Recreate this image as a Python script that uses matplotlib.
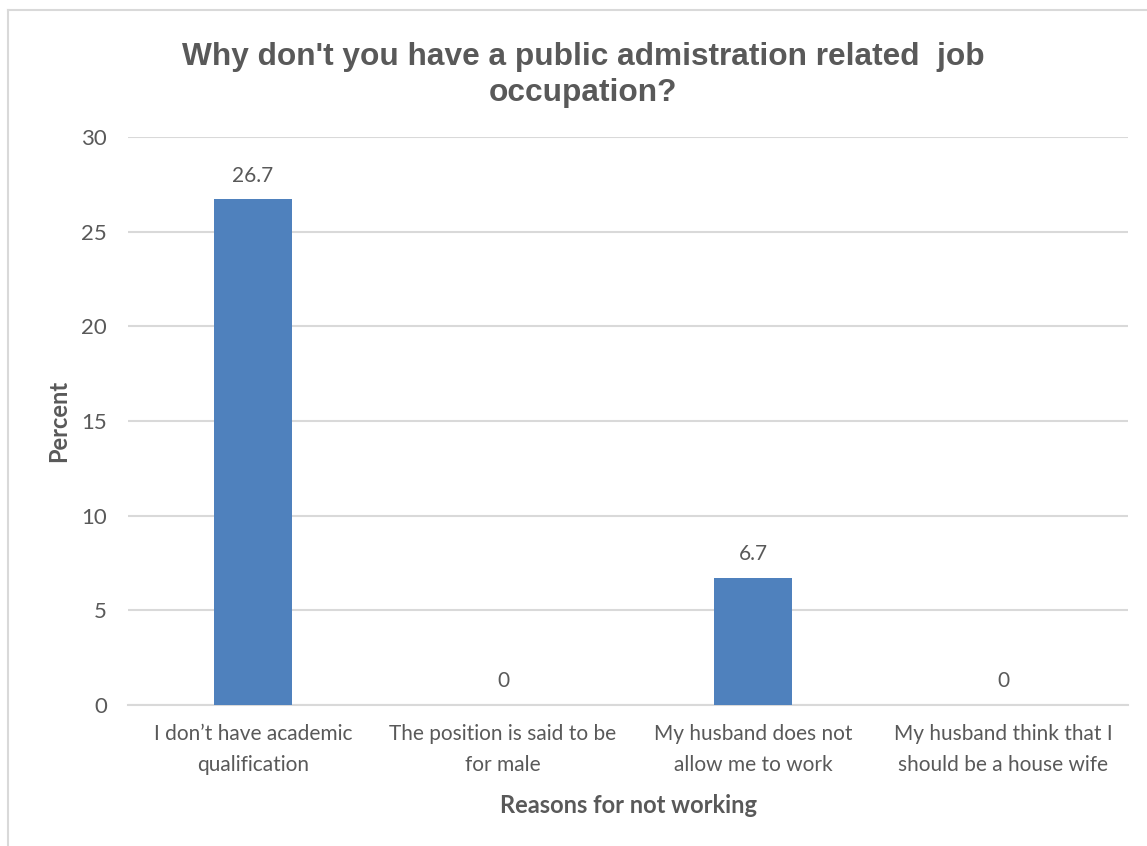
import matplotlib.pyplot as plt
from matplotlib.lines import Line2D

categories = [
    "I don\u2019t have academic\nqualification",
    "The position is said to be\nfor male",
    "My husband does not\nallow me to work",
    "My husband think that I\nshould be a house wife",
]
percent = [26.7, 0, 6.7, 0]
labels = ["26.7", "0", "6.7", "0"]

TEXT = "#595959"
GRID = "#D9D9D9"
BAR = "#4F81BD"

W, H = 1147, 846
fig = plt.figure(figsize=(W / 100, H / 100), dpi=100)
ax = fig.add_axes([128 / W, 1 - 705 / H, 1000 / W, (705 - 137) / H])

x = range(len(categories))
bars = ax.bar(x, percent, width=0.31, color=BAR, zorder=3)
for b, t in zip(bars, labels):
    ax.annotate(t, (b.get_x() + b.get_width() / 2, b.get_height()),
                xytext=(0, 10), textcoords="offset points",
                ha="center", va="bottom", fontsize=15, color=TEXT,
                family="Lato")

ax.set_xlim(-0.5, 3.5)
ax.set_ylim(0, 30)
ax.set_yticks(range(0, 31, 5))
ax.set_xticks(list(x))
ax.set_xticklabels(categories)
ax.yaxis.grid(True, color=GRID, linewidth=1.5, zorder=0)
for s in ["top", "right", "left"]:
    ax.spines[s].set_visible(False)
ax.spines["bottom"].set_color(GRID)
ax.spines["bottom"].set_linewidth(1.5)
ax.tick_params(axis="x", length=0, colors=TEXT, labelsize=15, pad=14)
ax.tick_params(axis="y", length=0, colors=TEXT, labelsize=16, pad=15)
for lbl in ax.get_xticklabels() + ax.get_yticklabels():
    lbl.set_family("Lato")
    lbl.set_linespacing(1.65)

ax.set_ylabel("Percent", fontsize=17, fontweight="bold", color=TEXT,
              family="Lato", labelpad=8)
ax.set_xlabel("Reasons for not working", fontsize=17, fontweight="bold",
              color=TEXT, family="Lato", labelpad=14)

fig.text(583 / W, 1 - 75 / H,
         "Why don't you have a public admistration related  job\noccupation?",
         ha="center", va="center", fontsize=22.8, fontweight="bold",
         color=TEXT, family="Liberation Sans", linespacing=1.22)

# outer chart frame
fig.add_artist(Line2D([8 / W, 1], [1 - 10 / H, 1 - 10 / H],
                      color=GRID, linewidth=1.5, transform=fig.transFigure))
fig.add_artist(Line2D([8 / W, 8 / W], [0, 1 - 10 / H],
                      color=GRID, linewidth=1.5, transform=fig.transFigure))

fig.savefig("out.png", dpi=100, facecolor="white")
